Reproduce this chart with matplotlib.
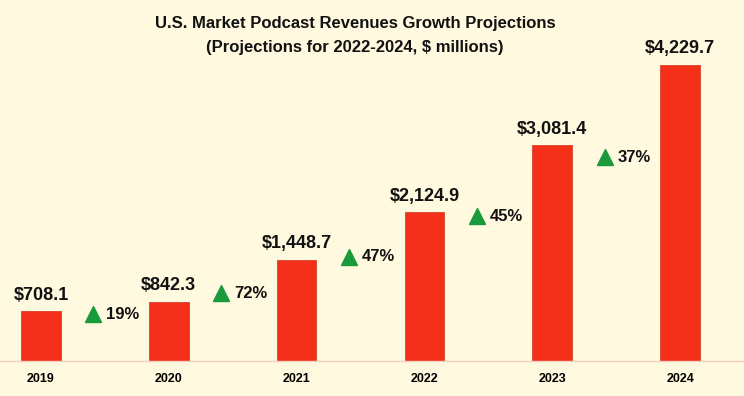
import matplotlib.pyplot as plt
import numpy as np

years = ['2019', '2020', '2021', '2022', '2023', '2024']
revenue = [708.1, 842.3, 1448.7, 2124.9, 3081.4, 4229.7]
growth = ['19%', '72%', '47%', '45%', '37%']
# heights (in $ millions) where the growth arrows sit
growth_y = [670, 970, 1490, 2070, 2910]

plt.rcParams['font.family'] = ['Liberation Sans', 'DejaVu Sans']
bg = '#fff9df'

fig = plt.figure(figsize=(7.44, 3.96), dpi=100, facecolor=bg)
ax = fig.add_axes([0, 0.0884, 1, 0.9116])
ax.set_facecolor(bg)

x = np.arange(len(years))
ax.bar(x, revenue, width=0.31, color='#f5301a', edgecolor='#d8402a', linewidth=0.6)

for xi, v in zip(x, revenue):
    ax.text(xi, v + 110, '${:,.1f}'.format(v), ha='center', va='bottom',
            fontsize=13, fontweight='bold', color='#111111')

for i, (g, gy) in enumerate(zip(growth, growth_y)):
    ax.plot(i + 0.41, gy, marker='^', ms=11, color='#1a9a3a', linestyle='none')
    ax.text(i + 0.51, gy, g, ha='left', va='center', fontsize=12,
            fontweight='bold', color='#111111')

ax.set_xlim(-0.32, 5.5)
ax.set_ylim(0, 5157)
ax.set_xticks(x)
ax.set_xticklabels(years, fontsize=9, fontweight='bold')
ax.tick_params(axis='x', length=0, pad=8.5)
ax.set_yticks([])
for s in ['top', 'right', 'left']:
    ax.spines[s].set_visible(False)
ax.spines['bottom'].set_color('#f3d2c0')
ax.spines['bottom'].set_linewidth(1)

fig.text(0.477, 0.94, 'U.S. Market Podcast Revenues Growth Projections',
         ha='center', va='center', fontsize=12, fontweight='bold', color='#111111')
fig.text(0.477, 0.879, '(Projections for 2022-2024, $ millions)',
         ha='center', va='center', fontsize=12, fontweight='bold', color='#111111')

fig.savefig('out.png', dpi=100, facecolor=bg)
